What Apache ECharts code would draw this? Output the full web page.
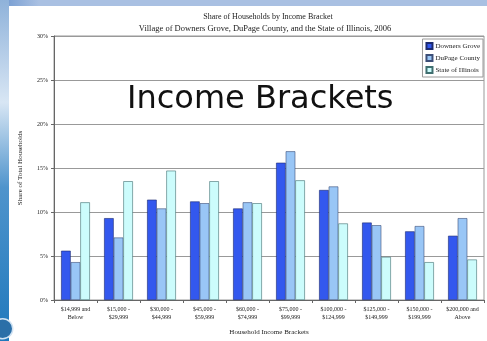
<!DOCTYPE html>
<html>
<head>
<meta charset="utf-8">
<script src="https://cdn.jsdelivr.net/npm/echarts@6/dist/echarts.min.js"></script>
<style>
html,body{margin:0;padding:0;background:#fff;}
#chart{width:487px;height:341px;}
</style>
</head>
<body>
<div id="chart"></div>
<script>
// Income brackets and household shares (percent)
const categories = [
  "$14,999 and\nBelow", "$15,000 -\n$29,999", "$30,000 -\n$44,999", "$45,000 -\n$59,999",
  "$60,000 -\n$74,999", "$75,000 -\n$99,999", "$100,000 -\n$124,999", "$125,000 -\n$149,999",
  "$150,000 -\n$199,999", "$200,000 and\nAbove"
];
const downersGrove = [5.6, 9.3, 11.4, 11.2, 10.4, 15.6, 12.5, 8.8, 7.8, 7.3];
const dupageCounty = [4.3, 7.1, 10.4, 11.0, 11.1, 16.9, 12.9, 8.5, 8.4, 9.3];
const stateOfIllinois = [11.1, 13.5, 14.7, 13.5, 11.0, 13.6, 8.7, 4.9, 4.3, 4.6];
const yTicks = [0, 5, 10, 15, 20, 25, 30];

const serif = "'Liberation Serif', 'DejaVu Serif', serif";
const chart = echarts.init(document.getElementById('chart'));

chart.setOption({
  animation: false,
  backgroundColor: '#ffffff',
  title: [
    { text: 'Share of Households by Income Bracket', left: 263, top: 8, textAlign: 'center',
      textStyle: { fontFamily: serif, fontSize: 8, fontWeight: 'normal', color: '#222' } },
    { text: 'Village of Downers Grove, DuPage County, and the State of Illinois, 2006', left: 260, top: 19, textAlign: 'center',
      textStyle: { fontFamily: serif, fontSize: 8.5, fontWeight: 'normal', color: '#222' } }
  ],
  legend: {
    orient: 'vertical', right: 4, top: 39, itemWidth: 6, itemHeight: 6, itemGap: 4, icon: 'rect',
    padding: [3, 3, 3, 3], borderColor: '#999', borderWidth: 1, backgroundColor: '#fff',
    textStyle: { fontFamily: serif, fontSize: 7, color: '#222', padding: [0, 0, 0, -2] },
    data: ['Downers Grove', 'DuPage County', 'State of Illinois']
  },
  grid: { left: 54, right: 3, top: 36, bottom: 38, show: true, borderColor: '#999', borderWidth: 1 },
  xAxis: {
    type: 'category', data: categories,
    name: 'Household Income Brackets', nameLocation: 'middle', nameGap: 29,
    nameTextStyle: { fontFamily: serif, fontSize: 7, color: '#222' },
    axisLine: { lineStyle: { color: '#666' } },
    axisTick: { show: true, length: 3, lineStyle: { color: '#666' } },
    axisLabel: { fontFamily: serif, fontSize: 6, color: '#222', interval: 0, lineHeight: 8, margin: 5 }
  },
  yAxis: {
    type: 'value', min: yTicks[0], max: yTicks[yTicks.length - 1], interval: 5,
    name: 'Share of Total Households', nameLocation: 'middle', nameGap: 30, nameRotate: 90,
    nameTextStyle: { fontFamily: serif, fontSize: 7, color: '#222' },
    axisLine: { show: true, lineStyle: { color: '#666' } },
    axisTick: { show: true, length: 3, lineStyle: { color: '#666' } },
    axisLabel: { fontFamily: serif, fontSize: 6, color: '#222', formatter: '{value}%', margin: 6 },
    splitLine: { lineStyle: { color: '#999', width: 1 } }
  },
  series: [
    { name: 'Downers Grove', type: 'bar', data: downersGrove, barGap: '0%', barCategoryGap: '33%',
      itemStyle: { color: '#3358ee', borderColor: '#1c2a70', borderWidth: 0.6 } },
    { name: 'DuPage County', type: 'bar', data: dupageCounty, barGap: '0%', barCategoryGap: '33%',
      itemStyle: { color: '#99c6f6', borderColor: '#3c4f78', borderWidth: 0.6 } },
    { name: 'State of Illinois', type: 'bar', data: stateOfIllinois, barGap: '0%', barCategoryGap: '33%',
      itemStyle: { color: '#ccfcfc', borderColor: '#3f6f70', borderWidth: 0.6 } }
  ],
  graphic: [
    // slide frame: top band and left swoosh
    { type: 'rect', left: 0, top: 0, z: 100, shape: { width: 487, height: 6 },
      style: { fill: new echarts.graphic.LinearGradient(0, 0, 1, 0, [
        { offset: 0, color: '#6f98cf' }, { offset: 0.08, color: '#a9c0e2' }, { offset: 1, color: '#a9c0e2' }]) } },
    { type: 'rect', left: 0, top: 0, z: 100, shape: { width: 9, height: 341 },
      style: { fill: new echarts.graphic.LinearGradient(0, 0, 0, 1, [
        { offset: 0, color: '#8fb2da' }, { offset: 0.3, color: '#d8e6f4' }, { offset: 0.55, color: '#4f94cc' },
        { offset: 1, color: '#1f78bc' }]) } },
    { type: 'circle', left: -8, top: 318, z: 101, shape: { r: 10 },
      style: { fill: '#2b6fa8', stroke: '#d0e2f2', lineWidth: 1.5 } },
    // slide heading
    { type: 'text', left: 127, top: 84, z: 110,
      style: { text: 'Income Brackets', fontFamily: "'DejaVu Sans', sans-serif", fontSize: 32,
        fill: '#111' } }
  ]
});
</script>
</body>
</html>
